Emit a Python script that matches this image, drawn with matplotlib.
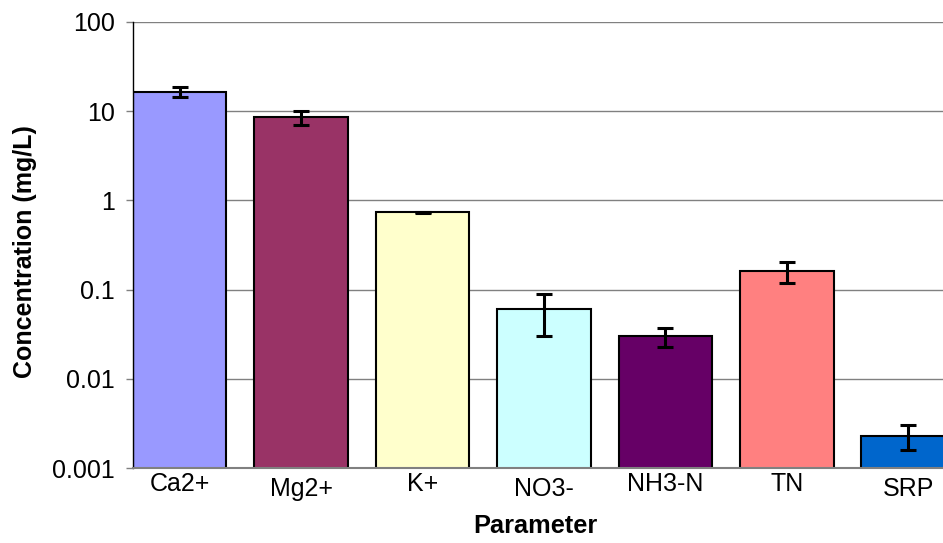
import numpy as np
import matplotlib
matplotlib.use("Agg")
import matplotlib.pyplot as plt

# values (mg/L, log scale)
params = ["Ca2+", "Mg2+", "K+", "NO3-", "NH3-N", "TN", "SRP"]
conc = [16.4, 8.5, 0.74, 0.06, 0.030, 0.16, 0.0023]
err = [2.1, 1.5, 0.01, 0.03, 0.0075, 0.042, 0.0007]
colors = ["#9999FF", "#993366", "#FFFFCC", "#CCFFFF", "#660066", "#FF8080", "#0066CC"]
low_labels = ["Mg2+", "NO3-", "SRP"]   # these sit a little lower in the original

plt.rcParams['font.family'] = ['Liberation Sans', 'DejaVu Sans']

fig = plt.figure(figsize=(9.43, 5.43), dpi=100)
ax = fig.add_axes([0.1410, 0.1381, 0.8717, 0.8214])

x = np.arange(len(params))
ax.bar(x, conc, width=0.77, color=colors, edgecolor="black", lw=1.5, zorder=2)
ax.errorbar(x, conc, yerr=err, fmt="none", ecolor="black", elinewidth=2.2,
            capsize=5.8, capthick=2.2, zorder=3)

ax.set_yscale("log")
ax.set_ylim(0.001, 100)
ax.set_xlim(-0.385, 6.385)
ax.set_yticks([0.001, 0.01, 0.1, 1, 10, 100])
ax.set_yticklabels(["0.001", "0.01", "0.1", "1", "10", "100"])
ax.minorticks_off()
ax.set_xticks(x)
ax.set_xticklabels(params)

ax.tick_params(axis="y", labelsize=18, length=5, width=1, color="#808080", pad=8)
ax.tick_params(axis="x", labelsize=18, length=0, pad=3)
for tick, name in zip(ax.xaxis.get_major_ticks(), params):
    if name in low_labels:
        tick.set_pad(6.8)

ax.grid(axis="y", color="#808080", lw=1)
ax.set_axisbelow(True)
for s in ["top", "right"]:
    ax.spines[s].set_visible(False)
ax.spines["left"].set_color("black")
ax.spines["left"].set_linewidth(1)
ax.spines["bottom"].set_color("#808080")
ax.spines["bottom"].set_linewidth(1.5)

ax.set_ylabel("Concentration (mg/L)", fontsize=18, fontweight="bold")
ax.yaxis.set_label_coords(-0.117, 0.485)
ax.set_xlabel("Parameter", fontsize=18.3, fontweight="bold")
ax.xaxis.set_label_coords(0.489, -0.103)

fig.savefig("out.png", dpi=100)
